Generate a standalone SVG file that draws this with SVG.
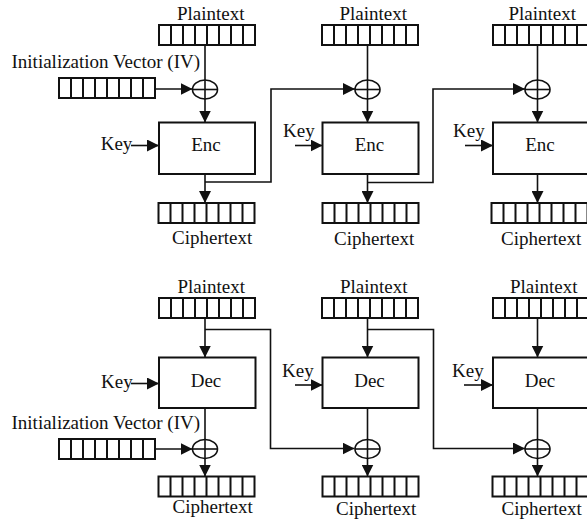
<svg xmlns="http://www.w3.org/2000/svg" xmlns:xlink="http://www.w3.org/1999/xlink" width="587" height="523" viewBox="0 0 587 523">
<style>
text{font-family:"Liberation Serif","Times New Roman",serif;font-size:19px;fill:#111}
.c{text-anchor:middle}
.box{fill:#fff;stroke:#111;stroke-width:2}
.ln{fill:none;stroke:#111;stroke-width:1.6}
.ar{fill:none;stroke:#111;stroke-width:1.6;marker-end:url(#ah)}
.xor{fill:none;stroke:#111;stroke-width:1.6}
</style>
<defs>
<marker id="ah" viewBox="0 0 12 12" refX="12" refY="6" markerWidth="12" markerHeight="12" markerUnits="userSpaceOnUse" orient="auto"><path d="M0,0 L12,6 L0,12 z" fill="#111"/></marker>
<g id="bar"><rect x="0" y="0" width="96" height="20" fill="#fff" stroke="#111" stroke-width="2"/><path d="M12,0v20M24,0v20M36,0v20M48,0v20M60,0v20M72,0v20M84,0v20" stroke="#111" stroke-width="2"/></g>
</defs>

<g id="connectors">
<!-- top -->
<line class="ar" x1="205" y1="45" x2="205" y2="122.5"/>
<line class="ar" x1="367.5" y1="45" x2="367.5" y2="122.5"/>
<line class="ar" x1="537.5" y1="45" x2="537.5" y2="122.5"/>
<line class="ar" x1="155" y1="89" x2="192.5" y2="89"/>
<line class="ar" x1="131" y1="145.5" x2="159" y2="145.5"/>
<line class="ar" x1="295" y1="145.5" x2="322.5" y2="145.5"/>
<line class="ar" x1="465" y1="145.5" x2="493" y2="145.5"/>
<line class="ar" x1="205" y1="174" x2="205" y2="203"/>
<line class="ar" x1="367.5" y1="174" x2="367.5" y2="203"/>
<line class="ar" x1="537.5" y1="174" x2="537.5" y2="203"/>
<path class="ar" d="M205,182 H271 V89 H355"/>
<path class="ar" d="M367.5,182.5 H433 V89 H525"/>
<!-- bottom -->
<line class="ar" x1="205" y1="318" x2="205" y2="357.5"/>
<line class="ar" x1="367.5" y1="318" x2="367.5" y2="357.5"/>
<line class="ar" x1="537.5" y1="318" x2="537.5" y2="357.5"/>
<line class="ar" x1="131" y1="383.5" x2="159" y2="383.5"/>
<line class="ar" x1="295" y1="385" x2="322.5" y2="385"/>
<line class="ar" x1="464" y1="385" x2="493" y2="385"/>
<path class="ar" d="M205,329.5 H270.5 V448.5 H354.5"/>
<path class="ar" d="M367.5,329.5 H433.5 V448.5 H525"/>
<line class="ar" x1="205" y1="408" x2="205" y2="476.5"/>
<line class="ar" x1="367.5" y1="408" x2="367.5" y2="476.5"/>
<line class="ar" x1="537.5" y1="408" x2="537.5" y2="476.5"/>
<line class="ar" x1="155" y1="449" x2="192.5" y2="449"/>
</g>

<g id="enc-iv">
<text x="11.5" y="68">Initialization Vector (IV)</text>
<use xlink:href="#bar" x="59" y="78"/>
</g>
<g id="enc-col1">
<text x="177" y="20">Plaintext</text>
<use xlink:href="#bar" x="159" y="25"/>
<g class="xorsym"><ellipse class="xor" cx="205" cy="89.5" rx="12.5" ry="9.5"/><line class="ln" x1="192.5" y1="89.5" x2="217.5" y2="89.5"/></g>
<rect class="box" x="159" y="122.5" width="96" height="51.5"/>
<text class="c" x="206" y="151">Enc</text>
<text x="100.7" y="150">Key</text>
<use xlink:href="#bar" x="158.5" y="203"/>
<text x="172" y="244">Ciphertext</text>
</g>
<g id="enc-col2">
<text x="339.5" y="20">Plaintext</text>
<use xlink:href="#bar" x="322" y="25"/>
<g><ellipse class="xor" cx="367.5" cy="89.5" rx="12.5" ry="9.5"/><line class="ln" x1="355" y1="89.5" x2="380" y2="89.5"/></g>
<rect class="box" x="322.5" y="122.5" width="96" height="51.5"/>
<text class="c" x="369.5" y="151">Enc</text>
<text x="283" y="137">Key</text>
<use xlink:href="#bar" x="322.5" y="203"/>
<text x="334" y="245">Ciphertext</text>
</g>
<g id="enc-col3">
<text x="508.5" y="20">Plaintext</text>
<use xlink:href="#bar" x="493" y="25"/>
<g><ellipse class="xor" cx="537.5" cy="89.5" rx="12.5" ry="9.5"/><line class="ln" x1="525" y1="89.5" x2="550" y2="89.5"/></g>
<rect class="box" x="493" y="122.5" width="96" height="51.5"/>
<text class="c" x="540" y="151">Enc</text>
<text x="453" y="137">Key</text>
<use xlink:href="#bar" x="491.5" y="203"/>
<text x="501" y="245">Ciphertext</text>
</g>

<g id="dec-iv">
<text x="11.5" y="429">Initialization Vector (IV)</text>
<use xlink:href="#bar" x="59" y="439"/>
</g>
<g id="dec-col1">
<text x="177.5" y="292.5">Plaintext</text>
<use xlink:href="#bar" x="159" y="298"/>
<rect class="box" x="159" y="357.5" width="96.5" height="50.5"/>
<text class="c" x="206" y="387">Dec</text>
<text x="101" y="388">Key</text>
<g><ellipse class="xor" cx="205" cy="449" rx="12.5" ry="9.5"/><line class="ln" x1="192.5" y1="449" x2="217.5" y2="449"/></g>
<use xlink:href="#bar" x="158.5" y="476.5"/>
<text x="172.5" y="513">Ciphertext</text>
</g>
<g id="dec-col2">
<text x="340" y="292.5">Plaintext</text>
<use xlink:href="#bar" x="322" y="298"/>
<rect class="box" x="322.5" y="357.5" width="96" height="50.5"/>
<text class="c" x="369.5" y="387">Dec</text>
<text x="282" y="377">Key</text>
<g><ellipse class="xor" cx="367.5" cy="449" rx="12.5" ry="9.5"/><line class="ln" x1="355" y1="449" x2="380" y2="449"/></g>
<use xlink:href="#bar" x="322.5" y="476.5"/>
<text x="336" y="514.5">Ciphertext</text>
</g>
<g id="dec-col3">
<text x="510" y="292.5">Plaintext</text>
<use xlink:href="#bar" x="493" y="298"/>
<rect class="box" x="493" y="357.5" width="96" height="50.5"/>
<text class="c" x="540" y="387">Dec</text>
<text x="452" y="377">Key</text>
<g><ellipse class="xor" cx="537.5" cy="449" rx="12.5" ry="9.5"/><line class="ln" x1="525" y1="449" x2="550" y2="449"/></g>
<use xlink:href="#bar" x="492.5" y="476.5"/>
<text x="501.5" y="514.5">Ciphertext</text>
</g>
</svg>
